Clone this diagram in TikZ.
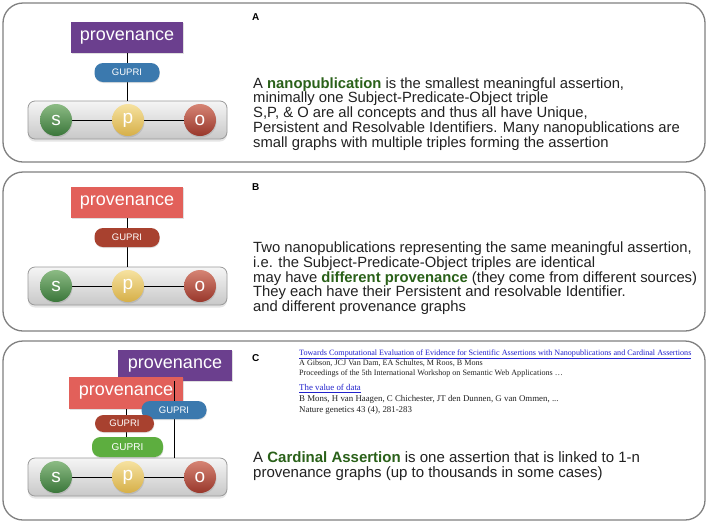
\documentclass[tikz,border=0pt]{standalone}
\usepackage{fontspec}
\setmainfont{Liberation Sans}
\newfontfamily\refserif{Liberation Serif}
\usetikzlibrary{shadows}
\definecolor{cpurple}{HTML}{6B3F8E}
\definecolor{cred}{HTML}{E2605A}
\definecolor{cblue}{HTML}{3B79AE}
\definecolor{cdkred}{HTML}{A8412F}
\definecolor{cgreen}{HTML}{5DAE3F}
\definecolor{textc}{HTML}{222222}
\definecolor{kgreen}{HTML}{2A6119}
\definecolor{linkc}{HTML}{2222CC}
\definecolor{panelc}{HTML}{808080}
\definecolor{bartop}{HTML}{F5F5F5}
\definecolor{barbot}{HTML}{C8C8C8}
\definecolor{barline}{HTML}{9A9A9A}
\definecolor{sgtop}{HTML}{8CBB84}
\definecolor{sgbot}{HTML}{3A763A}
\definecolor{pytop}{HTML}{F6E2A0}
\definecolor{pybot}{HTML}{D6AF48}
\definecolor{ortop}{HTML}{D68474}
\definecolor{orbot}{HTML}{98372B}
\pgfdeclarelayer{bgl}
\pgfdeclarelayer{boxes}
\pgfdeclarelayer{lines}
\pgfsetlayers{bgl,boxes,lines,main}
\begin{document}
\begin{tikzpicture}[x=1pt,y=-1pt,
  panel/.style={draw=panelc, line width=1.3pt, rounded corners=20pt},
  provbox/.style={rectangle, inner sep=0pt, minimum width=112pt, minimum height=31pt,
    text=white, font=\fontsize{18}{18}\selectfont,
    drop shadow={shadow xshift=0.6pt, shadow yshift=-1.2pt, opacity=0.25}},
  pill/.style={rectangle, rounded corners=8.5pt, inner sep=0pt, minimum width=65pt,
    minimum height=19pt, text=white, font=\fontsize{9.5}{9.5}\selectfont,
    drop shadow={shadow xshift=0.4pt, shadow yshift=-1pt, opacity=0.25}},
  spobar/.style={rectangle, rounded corners=7pt, inner sep=0pt, minimum width=199pt,
    minimum height=38pt, draw=barline, line width=0.8pt, top color=bartop, bottom color=barbot,
    drop shadow={shadow xshift=0pt, shadow yshift=-2.5pt, opacity=0.2}},
  ball/.style={circle, inner sep=0pt, minimum size=32pt, text=white,
    font=\fontsize{19}{19}\selectfont,
    drop shadow={shadow xshift=0.5pt, shadow yshift=-1.5pt, opacity=0.25}},
  sball/.style={ball, top color=sgtop, bottom color=sgbot},
  pball/.style={ball, top color=pytop, bottom color=pybot},
  oball/.style={ball, top color=ortop, bottom color=orbot},
  conn/.style={draw=black, line width=0.9pt},
  lab/.style={anchor=base west, inner sep=0pt, font=\bfseries\fontsize{10}{10}\selectfont, text=black},
  txt/.style={anchor=base west, inner sep=0pt, font=\fontsize{14.8}{15}\selectfont, text=textc},
  ctxt/.style={anchor=base west, inner sep=0pt, font=\fontsize{15}{16}\selectfont, text=textc},
  refa/.style={anchor=base west, inner sep=0pt, font=\refserif\fontsize{8.1}{9}\selectfont, text=textc},
  refb/.style={anchor=base west, inner sep=0pt, font=\refserif\fontsize{8.85}{10}\selectfont, text=textc},
  reflinka/.style={refa, text=linkc},
  reflinkb/.style={refb, text=linkc}
]
\begin{pgfonlayer}{bgl}
\fill[white] (0,0) rectangle (708,523);
\draw[panel] (3,3) rectangle (705,162);
\draw[panel] (3,172) rectangle (705,331);
\draw[panel] (3,341) rectangle (705,520);
\end{pgfonlayer}
\useasboundingbox (0,0) rectangle (708,523);

% ---------------- Panel A
\begin{pgfonlayer}{boxes}
\node[provbox, fill=cpurple] (provA) at (127,37.5) {provenance};
\node[spobar] (barA) at (127.5,120) {};
\end{pgfonlayer}
\node[pill, fill=cblue] (guA) at (127,72.5) {GUPRI};
\node[sball] (sA) at (56,120) {s};
\node[pball] (pA) at (128,120) {p};
\node[oball] (oA) at (200,120) {o};
\begin{pgfonlayer}{lines}
\draw[conn] (provA.south) -- (provA.south |- barA.north);
\draw[conn] (sA) -- (pA);
\draw[conn] (pA) -- (oA);
\end{pgfonlayer}
\node[lab] (labA) at (252,20.5) {A};
\node[txt] (tA1) at (253,88) {A \textbf{\color{kgreen}nanopublication} is the smallest meaningful assertion,};
\node[txt] (tA2) at (253,102.8) {minimally one Subject-Predicate-Object triple};
\node[txt] (tA3) at (253,117.6) {S,P, \& O are all concepts and thus all have Unique,};
\node[txt] (tA4) at (253,132.4) {Persistent and Resolvable Identifiers. Many nanopublications are};
\node[txt] (tA5) at (253,147.2) {small graphs with multiple triples forming the assertion};

% ---------------- Panel B
\begin{pgfonlayer}{boxes}
\node[provbox, fill=cred] (provB) at (127,202.5) {provenance};
\node[spobar] (barB) at (127.5,286) {};
\end{pgfonlayer}
\node[pill, fill=cdkred] (guB) at (127,237.5) {GUPRI};
\node[sball] (sB) at (56,286) {s};
\node[pball] (pB) at (128,286) {p};
\node[oball] (oB) at (200,286) {o};
\begin{pgfonlayer}{lines}
\draw[conn] (provB.south) -- (provB.south |- barB.north);
\draw[conn] (sB) -- (pB);
\draw[conn] (pB) -- (oB);
\end{pgfonlayer}
\node[lab] (labB) at (252,190.5) {B};
\node[txt] (tB1) at (253,252.5) {Two nanopublications representing the same meaningful assertion,};
\node[txt] (tB2) at (253,267.3) {i.e. the Subject-Predicate-Object triples are identical};
\node[txt] (tB3) at (253,282.1) {may have \textbf{\color{kgreen}different provenance} (they come from different sources)};
\node[txt] (tB4) at (253,296.9) {They each have their Persistent and resolvable Identifier.};
\node[txt] (tB5) at (253,311.7) {and different provenance graphs};

% ---------------- Panel C
\begin{pgfonlayer}{boxes}
\node[provbox, fill=cpurple, minimum width=114pt] (provC2) at (175,365.5) {provenance};
\node[provbox, fill=cred, minimum width=114pt, minimum height=32pt] (provC1) at (126,393) {provenance};
\node[spobar] (barC) at (127.5,477) {};
\end{pgfonlayer}
\node[pill, fill=cblue, minimum height=18pt] (guC2) at (174,410) {GUPRI};
\node[pill, fill=cdkred, minimum width=59pt, minimum height=17pt] (guC1) at (124.5,423.5) {GUPRI};
\node[pill, fill=cgreen, minimum width=71pt, minimum height=20pt, font=\fontsize{10}{10}\selectfont] (guC3) at (127.5,447) {GUPRI};
\node[sball] (sC) at (56,477) {s};
\node[pball] (pC) at (128,477) {p};
\node[oball] (oC) at (200,477) {o};
\begin{pgfonlayer}{lines}
\draw[conn] (guC2.center |- provC2.south) -- (guC2.center |- barC.north);
\draw[conn] (provC1.south) -- (provC1.south |- guC3.north);
\draw[conn] (sC) -- (pC);
\draw[conn] (pC) -- (oC);
\end{pgfonlayer}
\node[lab] (labC) at (252,361.5) {C};
\node[reflinka] (r1) at (299,355.5) {\underline{Towards Computational Evaluation of Evidence for Scientific Assertions with Nanopublications and Cardinal Assertions}};
\node[refa] (r2) at (299,365.5) {A Gibson, JCJ Van Dam, EA Schultes, M Roos, B Mons};
\node[refa] (r3) at (299,375.5) {Proceedings of the 5th International Workshop on Semantic Web Applications …};
\node[reflinkb] (r4) at (299,390.5) {\underline{The value of data}};
\node[refb] (r5) at (299,401.5) {B Mons, H van Haagen, C Chichester, JT den Dunnen, G van Ommen, ...};
\node[refb] (r6) at (299,412) {Nature genetics 43 (4), 281-283};
\node[ctxt] (tC1) at (253,462.5) {A \textbf{\color{kgreen}Cardinal Assertion} is one assertion that is linked to 1-n};
\node[ctxt] (tC2) at (253,477.5) {provenance graphs (up to thousands in some cases)};
\end{tikzpicture}
\end{document}
